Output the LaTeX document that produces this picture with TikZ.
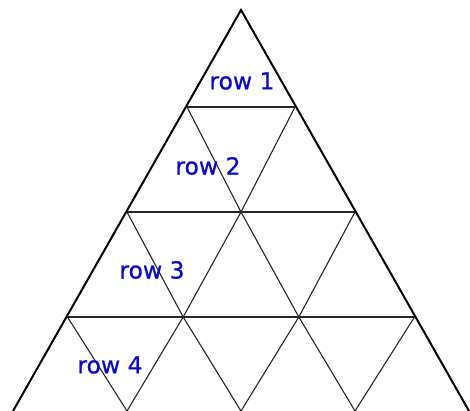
\documentclass[tikz,border=0pt]{standalone}
\usepackage{fontspec}
\setmainfont{DejaVu Sans}
\newfontfamily\rowfont[FakeBold=0.7]{DejaVu Sans}
\definecolor{rowblue}{RGB}{10,10,200}
\begin{document}
\begin{tikzpicture}[x=1pt, y=-1pt,
    outer/.style={line width=2pt, line join=miter},
    inner/.style={line width=1.1pt, black!85},
    rowlabel/.style={text=rowblue, font=\rowfont\fontsize{23.5}{26}\selectfont}]
    \useasboundingbox (0,0) rectangle (470,411);
    \clip (0,0) rectangle (470,411);

    \coordinate (p00) at (241,10);
    \foreach \r/\y/\h in {1/107/54, 2/212/114, 3/317/173.5, 4/411/228} {
        \foreach \j in {0,...,\r} {
            \coordinate (p\r\j) at ({241-\h+\j*2*\h/\r},\y);
        }
    }

    \foreach \r in {1,2,3} {
        \draw[inner] (p\r0) -- (p\r\r);
    }
    \foreach \r in {1,2,3} {
        \pgfmathtruncatemacro{\s}{\r+1}
        \pgfmathtruncatemacro{\m}{\r-1}
        \foreach \j in {0,...,\m} {
            \pgfmathtruncatemacro{\k}{\j+1}
            \draw[inner] (p\r\j) -- (p\s\k) -- (p\r\k);
        }
    }
    \draw[outer] (p40) -- (p00) -- (p44);

    \node[rowlabel] (row1) at (242,81) {row 1};
    \node[rowlabel] (row2) at (208,166) {row 2};
    \node[rowlabel] (row3) at (152,270) {row 3};
    \node[rowlabel] (row4) at (110,365) {row 4};
\end{tikzpicture}
\end{document}
